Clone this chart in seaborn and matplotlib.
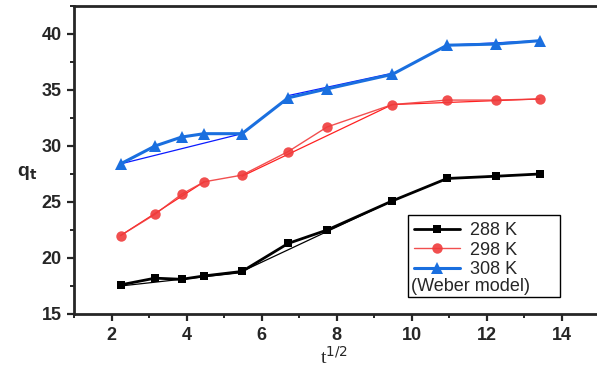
import matplotlib
matplotlib.use("Agg")
import matplotlib.pyplot as plt
import matplotlib.ticker as ticker
from matplotlib.patches import Rectangle
import seaborn as sns
import pandas as pd

# t^(1/2) values
sqrt_t = [2.24, 3.16, 3.87, 4.47, 5.48, 6.71, 7.75, 9.49, 10.95, 12.25, 13.42]

# q_t for each temperature
q_288 = [17.6, 18.2, 18.1, 18.4, 18.8, 21.3, 22.5, 25.1, 27.1, 27.3, 27.5]
q_298 = [22.0, 23.9, 25.7, 26.8, 27.4, 29.5, 31.7, 33.7, 34.1, 34.1, 34.2]
q_308 = [28.4, 30.0, 30.8, 31.1, 31.1, 34.3, 35.1, 36.4, 39.0, 39.1, 39.4]

# Weber model fit segments: (x0, x1, y0, y1)
fit_288 = [(2.24, 5.48, 17.5, 18.7), (5.48, 9.49, 18.8, 25.1), (10.95, 13.42, 27.1, 27.5)]
fit_298 = [(2.24, 4.47, 22.0, 26.8), (5.48, 9.49, 27.3, 33.7), (9.49, 13.42, 33.7, 34.2)]
fit_308 = [(2.24, 5.48, 28.4, 31.1), (6.71, 9.49, 34.5, 36.5), (10.95, 13.42, 39.0, 39.4)]

labels = ["288 K", "298 K", "308 K"]

sns.set_style("ticks")
plt.rcParams["font.family"] = ["Liberation Sans", "DejaVu Sans"]

fig = plt.figure(figsize=(5.97, 3.70), dpi=100)
ax = fig.add_axes([74 / 597, 1 - 314 / 370, 525 / 597, 308 / 370])

df = pd.DataFrame({"x": sqrt_t, "q288": q_288, "q298": q_298, "q308": q_308})

# fit lines underneath
for segs, col in [(fit_288, "black"), (fit_298, "#ff2020"), (fit_308, "#0a1aff")]:
    for x0, x1, y0, y1 in segs:
        ax.plot([x0, x1], [y0, y1], color=col, lw=0.9, zorder=2)

sns.lineplot(data=df, x="x", y="q288", ax=ax, color="black", lw=2.0,
             marker="s", markersize=6, markeredgewidth=0, label=labels[0], zorder=3)
sns.lineplot(data=df, x="x", y="q298", ax=ax, color="#f03c3c", lw=1.0, alpha=0.9,
             marker="o", markersize=7.5, markeredgewidth=0, label=labels[1], zorder=3)
sns.lineplot(data=df, x="x", y="q308", ax=ax, color="#1a6fdf", lw=2.2,
             marker="^", markersize=8, markeredgewidth=0, label=labels[2], zorder=3)

ax.set_xlim(1, 15)
ax.set_ylim(15, 42.5)
ax.xaxis.set_major_locator(ticker.MultipleLocator(2))
ax.xaxis.set_minor_locator(ticker.MultipleLocator(1))
ax.yaxis.set_major_locator(ticker.MultipleLocator(5))
ax.yaxis.set_minor_locator(ticker.MultipleLocator(2.5))
ax.tick_params(which="major", direction="out", length=5, width=1.6, labelsize=13, pad=4)
ax.tick_params(which="minor", direction="out", length=3, width=1.4)
for lab in ax.get_xticklabels() + ax.get_yticklabels():
    lab.set_fontweight("bold")
for sp in ax.spines.values():
    sp.set_linewidth(2.0)
    sp.set_visible(True)

ax.set_xlabel("t$^{1/2}$", family="Liberation Serif", fontsize=14)
ax.xaxis.set_label_coords(0.495, -0.105)
ax.set_ylabel("q$_\\mathbf{t}$", fontsize=14, fontweight="bold", rotation=0)
ax.yaxis.set_label_coords(-0.09, 0.43)

leg = ax.legend(loc="upper left", bbox_to_anchor=(0.633, 0.322), frameon=False,
                fontsize=13, handlelength=2.6, handletextpad=0.5, labelspacing=0.15,
                borderaxespad=0)
ax.text(0.641, 0.088, "(Weber model)", transform=ax.transAxes, fontsize=13, va="center")
ax.add_patch(Rectangle((0.636, 0.055), 0.29, 0.265, transform=ax.transAxes,
                       fill=False, lw=1.0, edgecolor="black", zorder=5))

fig.savefig("out.png", dpi=100)
